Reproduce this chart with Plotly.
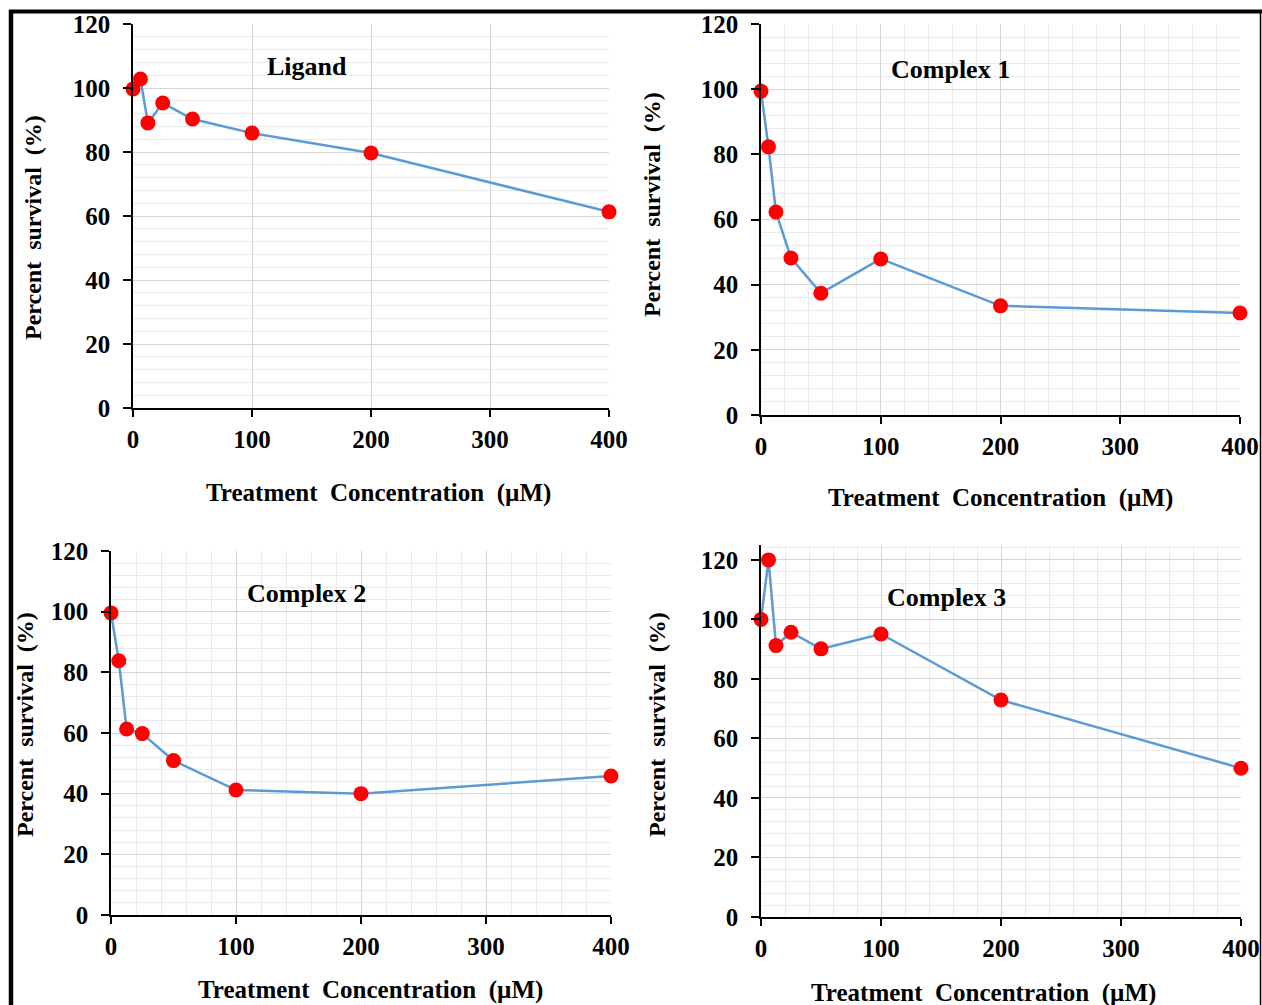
import plotly.graph_objects as go

# Treatment concentrations (µM) and percent survival for each compound
conc = [0, 6.25, 12.5, 25, 50, 100, 200, 400]
ligand = [99.7, 102.8, 89.1, 95.3, 90.3, 85.9, 79.7, 61.3]
complex1 = [99.4, 82.3, 62.3, 48.2, 37.4, 47.9, 33.5, 31.3]
complex2 = [99.6, 83.8, 61.3, 59.8, 50.9, 41.2, 40.0, 45.8]
complex3 = [100.0, 120.0, 91.2, 95.7, 90.1, 95.1, 72.9, 50.0]

panel_names = ["Ligand", "Complex 1", "Complex 2", "Complex 3"]
x_ticks = [0, 100, 200, 300, 400]
y_ticks = [0, 20, 40, 60, 80, 100, 120]

W, H = 1262, 1005
FONT = "Liberation Serif, Times New Roman, serif"

# Pixel boxes of each plot area: (left, right, top, bottom, y max)
panels = [
    (133, 609, 24, 408, 120),
    (761, 1240, 24, 415, 120),
    (111, 611, 551, 915, 120),
    (761, 1241, 545, 917, 125),
]
series = [ligand, complex1, complex2, complex3]

# Text anchors (pixel centres): title, y-axis title, x-axis title
title_pos = [(307, 66), (950, 69), (306, 593), (946, 597)]
ytitle_pos = [(33, 228), (652, 205), (25, 725), (657, 725)]
xtitle_pos = [(378, 493), (1000, 498), (370, 990), (983, 993)]


def px(x):
    return x / W


def py(y):
    return 1 - y / H


fig = go.Figure()
annotations = []

for i, ((l, r, t, b, ymax), ys, name) in enumerate(zip(panels, series, panel_names)):
    n = "" if i == 0 else str(i + 1)
    fig.add_trace(go.Scatter(
        x=conc, y=ys, mode="lines+markers",
        line=dict(color="#5B9BD5", width=2.5),
        marker=dict(color="#FF0000", size=15),
        cliponaxis=False, showlegend=False,
        xaxis="x" + n, yaxis="y" + n,
    ))

    # Ligand panel has no vertical minor gridlines
    x_minor = dict(showgrid=False) if i == 0 else dict(
        dtick=20, tick0=0, showgrid=True, gridcolor="#EBEBEB", gridwidth=1)

    fig.update_layout(**{
        "xaxis" + n: dict(
            domain=[px(l), px(r)], range=[0, 400], anchor="y" + n,
            tickvals=x_ticks, ticktext=[str(v) for v in x_ticks],
            showline=True, linecolor="black", linewidth=1.5,
            ticks="outside", ticklen=7, tickwidth=1.5, tickcolor="black",
            ticklabelstandoff=1, automargin=False,
            showgrid=True, gridcolor="#D6D6D6", gridwidth=1,
            minor=x_minor, zeroline=False, fixedrange=True,
            tickfont=dict(family=FONT, size=25, color="black", weight="bold"),
        ),
        "yaxis" + n: dict(
            domain=[py(b), py(t)], range=[0, ymax], anchor="x" + n,
            tickvals=y_ticks, ticktext=[str(v) for v in y_ticks],
            showline=True, linecolor="black", linewidth=1.5,
            ticks="outside", ticklen=8, tickwidth=1.5, tickcolor="black",
            ticklabelstandoff=8, automargin=False,
            showgrid=True, gridcolor="#D6D6D6", gridwidth=1,
            minor=dict(dtick=4, tick0=0, showgrid=True,
                       gridcolor="#EBEBEB", gridwidth=1),
            zeroline=False, fixedrange=True,
            tickfont=dict(family=FONT, size=25, color="black", weight="bold"),
        ),
    })

    tx, ty = title_pos[i]
    annotations.append(dict(
        x=px(tx), y=py(ty), xref="paper", yref="paper", showarrow=False,
        text=name, xanchor="center", yanchor="middle",
        font=dict(family=FONT, size=26, color="black", weight="bold"),
    ))
    yx, yy = ytitle_pos[i]
    annotations.append(dict(
        x=px(yx), y=py(yy), xref="paper", yref="paper", showarrow=False,
        text="Percent\u00a0 survival\u00a0 (%)", textangle=-90,
        xanchor="center", yanchor="middle",
        font=dict(family=FONT, size=24, color="black", weight="bold"),
    ))
    xx, xy = xtitle_pos[i]
    annotations.append(dict(
        x=px(xx), y=py(xy), xref="paper", yref="paper", showarrow=False,
        text="Treatment\u00a0 Concentration\u00a0 (µM)",
        xanchor="center", yanchor="middle",
        font=dict(family=FONT, size=25, color="black", weight="bold"),
    ))

# Outer frame: heavy left and top edges, thin right edge
shapes = [
    dict(type="line", xref="paper", yref="paper", x0=px(11), x1=px(11),
         y0=py(10), y1=0, line=dict(color="black", width=4.5)),
    dict(type="line", xref="paper", yref="paper", x0=px(9), x1=1,
         y0=py(11.5), y1=py(11.5), line=dict(color="black", width=4)),
    dict(type="line", xref="paper", yref="paper", x0=px(1260.5), x1=px(1260.5),
         y0=py(10), y1=0, line=dict(color="black", width=1.5)),
]

fig.update_layout(
    width=W, height=H,
    margin=dict(l=0, r=0, t=0, b=0, pad=0, autoexpand=False),
    paper_bgcolor="white", plot_bgcolor="white",
    annotations=annotations, shapes=shapes,
)

fig.write_html("out.html")
